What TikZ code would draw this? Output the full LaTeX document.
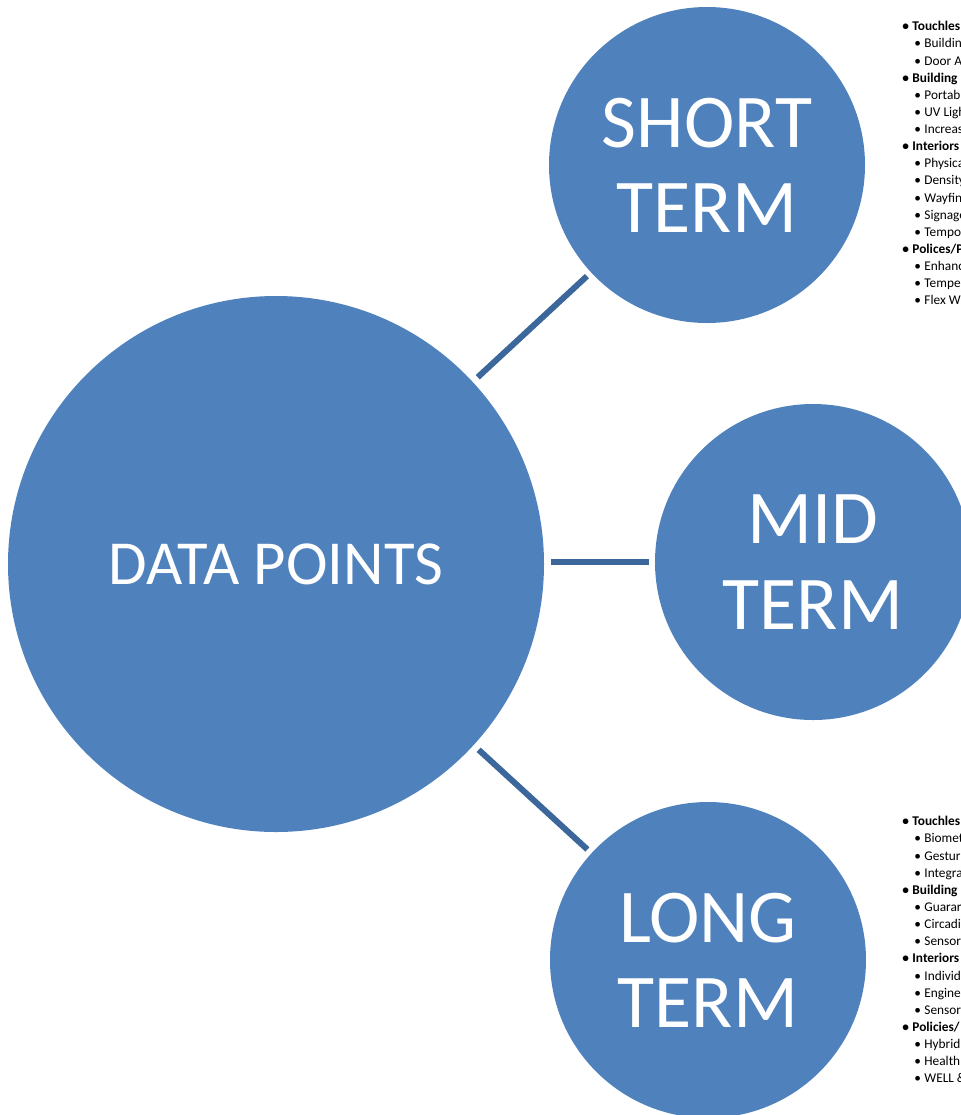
\documentclass[tikz,border=0pt]{standalone}
\usepackage{fontspec}
\setmainfont{Carlito}
\usetikzlibrary{calc}
\definecolor{smblue}{RGB}{79,129,189}
\definecolor{smline}{RGB}{60,103,155}

\begin{document}
\begin{tikzpicture}[x=0.75pt,y=-0.75pt,
  term/.style={circle, fill=smblue, text=white, inner sep=0pt, minimum size=237pt,
    align=center, font=\fontsize{57}{64}\selectfont},
  hub/.style={circle, fill=smblue, text=white, inner sep=0pt, minimum size=402pt,
    font=\fontsize{47}{56}\selectfont},
  link/.style={smline, line width=4.5pt, shorten <=5pt, shorten >=4pt},
  item1/.style={anchor=west, inner sep=0pt, text height=1.5ex, text depth=.3ex,
    font=\fontsize{10}{12}\selectfont\bfseries},
  item2/.style={item1, font=\fontsize{10}{12}\selectfont, xshift=9pt}]
\useasboundingbox (0,0) rectangle (961,1115);
\clip (0,0) rectangle (961,1115);

% Circles
\node[hub] (dp) at (276,564) {DATA POINTS};
\node[term] (st) at (707,165) {SHORT\\TERM};
\node[term] (mt) at (813,562) {MID\\TERM};
\node[term] (lt) at (708,960) {LONG\\TERM};

% Connectors
\draw[link] (dp) -- (st);
\draw[link] (dp.east |- mt) -- (mt);
\draw[link] (dp) -- (lt);

% Short term list
\foreach \lv/\t [count=\i from 0] in {1/Touchles, 2/Buildin, 2/Door A, 1/Building,
    2/Portab, 2/UV Ligh, 2/Increas, 1/Interiors, 2/Physica, 2/Density, 2/Wayfin,
    2/Signage, 2/Tempo, 1/{Polices/P}, 2/Enhanc, 2/Tempe, 2/Flex W} {
  \node[item\lv] (s\i) at (902,27+\i*17.13) {\makebox[7.6pt][l]{\textbullet}\t};
}

% Long term list
\foreach \lv/\t [count=\i from 0] in {1/Touchles, 2/Biomet, 2/Gestur, 2/Integra,
    1/Building, 2/Guarar, 2/Circadi, 2/Sensor, 1/Interiors, 2/Individ, 2/Engine,
    2/Sensor, 1/{Policies/}, 2/Hybrid, 2/Health, 2/WELL \&} {
  \node[item\lv] (l\i) at (902,822+\i*17.13) {\makebox[7.6pt][l]{\textbullet}\t};
}
\end{tikzpicture}
\end{document}
